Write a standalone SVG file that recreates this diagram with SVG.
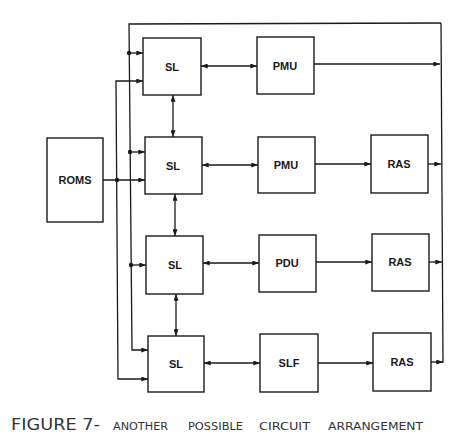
<svg xmlns="http://www.w3.org/2000/svg" width="476" height="434" viewBox="0 0 476 434">
<style>
.box{fill:#fff;stroke:#1a1a1a;stroke-width:1.4}
.lbl{font-family:"Liberation Sans",Arial,sans-serif;font-weight:bold;font-size:11px;fill:#1a1a1a;text-anchor:middle;dominant-baseline:central}
.ln{fill:none;stroke:#1a1a1a;stroke-width:1.3}
.a{marker-end:url(#ah)}
.b{marker-start:url(#ah);marker-end:url(#ah)}
.dot{fill:#1a1a1a}
.cap{font-family:"DejaVu Sans","Liberation Sans",sans-serif;fill:#333}
</style>
<defs>
<marker id="ah" viewBox="0 0 8 6" refX="8" refY="3" markerWidth="7" markerHeight="5" markerUnits="userSpaceOnUse" orient="auto-start-reverse">
<path d="M0,0 L8,3 L0,6 z" fill="#1a1a1a"/>
</marker>
</defs>
<rect width="476" height="434" fill="#fff"/>
<g id="connectors">
<path class="ln a" d="M441,23 L129,24 L132,350 L148,350"/>
<path class="ln" d="M441,23 L443,363"/>
<path class="ln a" d="M314,64 L440,64"/>
<path class="ln a" d="M428,164 L441,164"/>
<path class="ln a" d="M429,262 L442,262"/>
<path class="ln a" d="M431,362 L443,362"/>
<path class="ln a" d="M129,53 L143,53"/>
<path class="ln a" d="M130,152 L145,152"/>
<path class="ln a" d="M131,265 L146,265"/>
<path class="ln b" d="M143,81 L116,81 L118,379 L148,379"/>
<path class="ln a" d="M103,180 L145,180"/>
<circle class="dot" cx="129" cy="53" r="2.2"/>
<circle class="dot" cx="130" cy="152" r="2.2"/>
<circle class="dot" cx="131" cy="265" r="2.2"/>
<circle class="dot" cx="117" cy="180" r="2.2"/>
<path class="ln b" d="M201,66 L257,66"/>
<path class="ln b" d="M202,165 L258,165"/>
<path class="ln b" d="M203,263 L259,263"/>
<path class="ln b" d="M204,363 L260,363"/>
<path class="ln a" d="M315,164 L371,164"/>
<path class="ln a" d="M316,262 L372,262"/>
<path class="ln a" d="M318,363 L373,363"/>
<path class="ln b" d="M173,95 L173,137"/>
<path class="ln b" d="M175,194 L175,236"/>
<path class="ln b" d="M176,294 L176,336"/>
</g>
<g id="roms"><rect class="box" x="47" y="138" width="56" height="84"/><text class="lbl" x="75" y="180">ROMS</text></g>
<g id="sl1"><rect class="box" x="143" y="38" width="58" height="57"/><text class="lbl" x="172" y="67">SL</text></g>
<g id="sl2"><rect class="box" x="145" y="137" width="57" height="57"/><text class="lbl" x="173" y="166">SL</text></g>
<g id="sl3"><rect class="box" x="146" y="236" width="57" height="58"/><text class="lbl" x="175" y="265">SL</text></g>
<g id="sl4"><rect class="box" x="148" y="336" width="56" height="56"/><text class="lbl" x="176" y="364">SL</text></g>
<g id="pmu1"><rect class="box" x="257" y="37" width="57" height="57"/><text class="lbl" x="285" y="66">PMU</text></g>
<g id="pmu2"><rect class="box" x="258" y="137" width="57" height="56"/><text class="lbl" x="286" y="165">PMU</text></g>
<g id="pdu"><rect class="box" x="259" y="235" width="57" height="57"/><text class="lbl" x="287" y="263">PDU</text></g>
<g id="slf"><rect class="box" x="260" y="334" width="58" height="58"/><text class="lbl" x="289" y="363">SLF</text></g>
<g id="ras1"><rect class="box" x="371" y="135" width="57" height="58"/><text class="lbl" x="399" y="164">RAS</text></g>
<g id="ras2"><rect class="box" x="372" y="234" width="57" height="57"/><text class="lbl" x="400" y="262">RAS</text></g>
<g id="ras3"><rect class="box" x="373" y="333" width="58" height="58"/><text class="lbl" x="402" y="362">RAS</text></g>
<g id="caption">
<text class="cap" x="11" y="430" font-size="16" textLength="89" lengthAdjust="spacingAndGlyphs">FIGURE 7-</text>
<text class="cap" x="113" y="430" font-size="11" textLength="55" lengthAdjust="spacingAndGlyphs">ANOTHER</text>
<text class="cap" x="188" y="430" font-size="11" textLength="55" lengthAdjust="spacingAndGlyphs">POSSIBLE</text>
<text class="cap" x="259" y="430" font-size="11" textLength="51" lengthAdjust="spacingAndGlyphs">CIRCUIT</text>
<text class="cap" x="328" y="430" font-size="11" textLength="95" lengthAdjust="spacingAndGlyphs">ARRANGEMENT</text>
</g>
</svg>
